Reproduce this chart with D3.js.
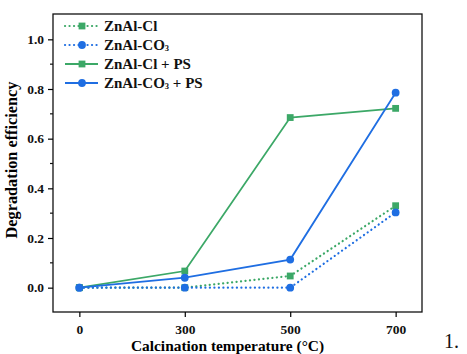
<!DOCTYPE html>
<html>
<head>
<meta charset="utf-8">
<script src="https://cdn.jsdelivr.net/npm/d3@7"></script>
<style>
  body { margin: 0; background: #fff; }
  text { font-family: "Liberation Serif", "Times New Roman", serif; }
</style>
</head>
<body>
<div id="chart"></div>
<script>
// data
var temps = ["0", "300", "500", "700"];
var znalCl = [0, 0, 0.047, 0.33];
var znalCO3 = [0, 0, 0, 0.303];
var znalClPS = [0, 0.067, 0.685, 0.722];
var znalCO3PS = [0, 0.04, 0.113, 0.785];
var yTicks = [0.0, 0.2, 0.4, 0.6, 0.8, 1.0];

var green = "#3ca867", blue = "#1f6ee2";

var series = [
    {name: "ZnAl-Cl", sub: "", tail: "", values: znalCl, color: green, marker: "square", dotted: true},
    {name: "ZnAl-CO", sub: "3", tail: "", values: znalCO3, color: blue, marker: "circle", dotted: true},
    {name: "ZnAl-Cl + PS", sub: "", tail: "", values: znalClPS, color: green, marker: "square", dotted: false},
    {name: "ZnAl-CO", sub: "3", tail: " + PS", values: znalCO3PS, color: blue, marker: "circle", dotted: false}
];

var margin = {top: 14, right: 45, bottom: 42, left: 53},
    width = 422 - margin.left,
    height = 312 - margin.top;

var svg = d3.select("#chart").append("svg")
    .attr("width", 467)
    .attr("height", 354)
    .append("g")
    .attr("transform", "translate(" + margin.left + "," + margin.top + ")");

var x = d3.scalePoint().domain(temps).range([0, width]).padding(0.25);
var y = d3.scaleLinear().domain([-0.098, 1.102]).range([height, 0]);

// frame
svg.append("rect")
    .attr("width", width).attr("height", height)
    .attr("fill", "none").attr("stroke", "#111").attr("stroke-width", 1.3);

// y axis
var yAxis = svg.append("g")
    .call(d3.axisLeft(y).tickValues(yTicks).tickFormat(d3.format(".1f")).tickSize(5).tickPadding(4));
yAxis.select(".domain").remove();
yAxis.selectAll(".tick line").attr("stroke-width", 1.2);
yAxis.selectAll("text").attr("font-size", 13.5).attr("font-weight", "bold").attr("fill", "#111");
svg.append("g")
    .selectAll("line")
    .data([0.1, 0.3, 0.5, 0.7, 0.9])
    .enter()
    .append("line")
    .attr("x1", -3).attr("x2", 0)
    .attr("y1", d => y(d)).attr("y2", d => y(d))
    .attr("stroke", "#111").attr("stroke-width", 1.2);

// x axis
var xAxis = svg.append("g")
    .attr("transform", "translate(0," + height + ")")
    .call(d3.axisBottom(x).tickSize(5).tickPadding(7));
xAxis.select(".domain").remove();
xAxis.selectAll(".tick line").attr("stroke-width", 1.2);
xAxis.selectAll("text").attr("font-size", 13.5).attr("font-weight", "bold").attr("fill", "#111");

// axis titles
svg.append("text")
    .attr("x", (131 + 324) / 2 - margin.left).attr("y", height + 39)
    .attr("text-anchor", "middle")
    .attr("font-size", 15.4).attr("font-weight", "bold")
    .text("Calcination temperature (°C)");
svg.append("text")
    .attr("transform", "translate(-36," + (height / 2 - 3) + ") rotate(-90)")
    .attr("text-anchor", "middle")
    .attr("font-size", 16.3).attr("font-weight", "bold")
    .text("Degradation efficiency");

var line = d3.line()
    .x((d, i) => x(temps[i]))
    .y(d => y(d));

function drawMarker(g, s, cx, cy) {
    if (s.marker === "square") {
        g.append("rect")
            .attr("x", cx - 3.4).attr("y", cy - 3.4)
            .attr("width", 6.8).attr("height", 6.8)
            .attr("fill", s.color);
    } else {
        g.append("circle")
            .attr("cx", cx).attr("cy", cy).attr("r", 3.9)
            .attr("fill", s.color);
    }
}

series.forEach(function(s) {
    var g = svg.append("g");
    g.append("path")
        .datum(s.values)
        .attr("d", line)
        .attr("fill", "none")
        .attr("stroke", s.color)
        .attr("stroke-width", s.dotted ? 2.2 : 1.8)
        .attr("stroke-linecap", s.dotted ? "round" : "butt")
        .attr("stroke-dasharray", s.dotted ? "0.1 4.4" : null);
    s.values.forEach(function(v, i) {
        drawMarker(g, s, x(temps[i]), y(v));
    });
});

// legend
var legend = svg.append("g").attr("transform", "translate(11,12)");
series.forEach(function(s, i) {
    var row = legend.append("g").attr("transform", "translate(0," + (i * 19) + ")");
    row.append("line")
        .attr("x1", 1).attr("x2", 34).attr("y1", 0).attr("y2", 0)
        .attr("stroke", s.color)
        .attr("stroke-width", s.dotted ? 2.2 : 1.8)
        .attr("stroke-linecap", s.dotted ? "round" : "butt")
        .attr("stroke-dasharray", s.dotted ? "0.1 4.4" : null);
    drawMarker(row, s, 18, 0);
    var t = row.append("text")
        .attr("x", 40).attr("y", 5)
        .attr("font-size", 15).attr("font-weight", "bold")
        .attr("fill", "#111");
    t.append("tspan").text(s.name);
    if (s.sub) {
        t.append("tspan").attr("font-size", 8.5).attr("dy", 1).text(s.sub);
        t.append("tspan").attr("dy", -1).text(s.tail);
    }
});

// stray numbering from the source page
d3.select("svg").append("text")
    .attr("x", 444).attr("y", 348)
    .attr("font-size", 20)
    .attr("fill", "#111")
    .text("1.");
</script>
</body>
</html>
